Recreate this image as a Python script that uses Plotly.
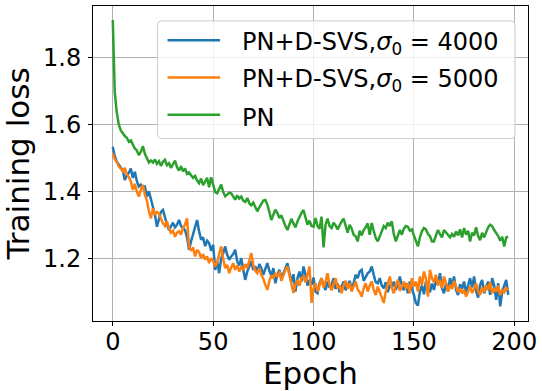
import plotly.graph_objects as go

epochs = list(range(198))

loss_pn = [
    1.912, 1.695, 1.635, 1.600, 1.582, 1.572, 1.565, 1.560, 1.548, 1.552,
    1.540, 1.528, 1.522, 1.508, 1.518, 1.535, 1.512, 1.498, 1.486, 1.492,
    1.486, 1.495, 1.482, 1.490, 1.476, 1.488, 1.494, 1.478, 1.484, 1.470,
    1.482, 1.492, 1.472, 1.462, 1.475, 1.460, 1.468, 1.452, 1.456, 1.448,
    1.440, 1.446, 1.432, 1.424, 1.438, 1.418, 1.430, 1.440, 1.412, 1.442,
    1.420, 1.398, 1.394, 1.405, 1.420, 1.398, 1.385, 1.390, 1.396, 1.394,
    1.382, 1.375, 1.388, 1.378, 1.384, 1.372, 1.368, 1.380, 1.364, 1.358,
    1.366, 1.350, 1.340, 1.352, 1.362, 1.372, 1.374, 1.360, 1.338, 1.314,
    1.330, 1.345, 1.335, 1.320, 1.328, 1.310, 1.296, 1.284, 1.300, 1.318,
    1.304, 1.292, 1.310, 1.325, 1.335, 1.344, 1.320, 1.300, 1.312, 1.296,
    1.294, 1.320, 1.296, 1.288, 1.324, 1.232, 1.300, 1.318, 1.296, 1.290,
    1.306, 1.298, 1.286, 1.300, 1.310, 1.318, 1.296, 1.276, 1.300, 1.288,
    1.270, 1.265, 1.250, 1.282, 1.268, 1.284, 1.292, 1.304, 1.270, 1.305,
    1.282, 1.260, 1.250, 1.268, 1.280, 1.296, 1.290, 1.306, 1.296, 1.310,
    1.272, 1.250, 1.266, 1.284, 1.270, 1.288, 1.296, 1.294, 1.282, 1.286,
    1.268, 1.250, 1.235, 1.262, 1.280, 1.290, 1.286, 1.272, 1.266, 1.250,
    1.250, 1.268, 1.284, 1.272, 1.262, 1.284, 1.276, 1.270, 1.262, 1.272,
    1.264, 1.280, 1.268, 1.286, 1.262, 1.290, 1.270, 1.282, 1.250, 1.276,
    1.268, 1.292, 1.266, 1.254, 1.276, 1.262, 1.280, 1.292, 1.300, 1.296,
    1.284, 1.276, 1.266, 1.252, 1.264, 1.235, 1.262, 1.264,
]

loss_4000 = [
    1.533, 1.505, 1.488, 1.480, 1.470, 1.462, 1.434, 1.448, 1.455, 1.468,
    1.440, 1.458, 1.430, 1.414, 1.420, 1.412, 1.414, 1.384, 1.400, 1.376,
    1.354, 1.330, 1.294, 1.320, 1.338, 1.344, 1.318, 1.300, 1.284, 1.296,
    1.306, 1.292, 1.300, 1.314, 1.296, 1.290, 1.284, 1.262, 1.225, 1.250,
    1.270, 1.290, 1.314, 1.280, 1.255, 1.262, 1.236, 1.252, 1.245, 1.222,
    1.240, 1.165, 1.190, 1.155, 1.200, 1.214, 1.235, 1.210, 1.195, 1.205,
    1.212, 1.225, 1.190, 1.178, 1.200, 1.165, 1.135, 1.160, 1.178, 1.190,
    1.165, 1.175, 1.158, 1.182, 1.170, 1.150, 1.168, 1.185, 1.162, 1.148,
    1.170, 1.125, 1.150, 1.165, 1.140, 1.158, 1.170, 1.185, 1.150, 1.128,
    1.152, 1.100, 1.140, 1.160, 1.130, 1.175, 1.150, 1.118, 1.135, 1.120,
    1.142, 1.100, 1.095, 1.125, 1.140, 1.118, 1.105, 1.130, 1.112, 1.120,
    1.140, 1.108, 1.124, 1.098, 1.115, 1.130, 1.104, 1.118, 1.132, 1.110,
    1.126, 1.150, 1.140, 1.160, 1.165, 1.132, 1.145, 1.155, 1.160, 1.175,
    1.150, 1.128, 1.125, 1.140, 1.118, 1.110, 1.128, 1.098, 1.120, 1.112,
    1.130, 1.105, 1.122, 1.145, 1.118, 1.104, 1.125, 1.095, 1.130, 1.112,
    1.090, 1.066, 1.058, 1.100, 1.118, 1.092, 1.130, 1.110, 1.098, 1.124,
    1.105, 1.135, 1.120, 1.155, 1.110, 1.095, 1.125, 1.100, 1.140, 1.118,
    1.145, 1.105, 1.090, 1.122, 1.108, 1.130, 1.098, 1.118, 1.140, 1.112,
    1.145, 1.102, 1.082, 1.120, 1.135, 1.095, 1.110, 1.130, 1.090, 1.140,
    1.118, 1.075, 1.125, 1.056, 1.100, 1.120, 1.135, 1.090,
]

loss_5000 = [
    1.513, 1.496, 1.488, 1.474, 1.468, 1.459, 1.470, 1.450, 1.442, 1.430,
    1.404, 1.422, 1.398, 1.384, 1.405, 1.419, 1.390, 1.372, 1.340, 1.319,
    1.349, 1.330, 1.338, 1.334, 1.318, 1.304, 1.296, 1.310, 1.289, 1.276,
    1.282, 1.264, 1.276, 1.280, 1.270, 1.290, 1.300, 1.319, 1.235, 1.222,
    1.232, 1.205, 1.225, 1.218, 1.200, 1.212, 1.196, 1.205, 1.185, 1.200,
    1.192, 1.175, 1.188, 1.210, 1.235, 1.198, 1.170, 1.180, 1.155, 1.172,
    1.185, 1.165, 1.178, 1.160, 1.175, 1.165, 1.182, 1.170, 1.192, 1.215,
    1.180, 1.162, 1.155, 1.170, 1.150, 1.138, 1.120, 1.105, 1.132, 1.148,
    1.140, 1.155, 1.145, 1.160, 1.132, 1.150, 1.165, 1.175, 1.150, 1.130,
    1.096, 1.120, 1.135, 1.118, 1.140, 1.145, 1.128, 1.150, 1.175, 1.066,
    1.110, 1.125, 1.100, 1.118, 1.140, 1.112, 1.130, 1.155, 1.120, 1.104,
    1.125, 1.140, 1.110, 1.118, 1.095, 1.120, 1.132, 1.108, 1.125, 1.100,
    1.115, 1.130, 1.106, 1.098, 1.085, 1.110, 1.125, 1.100, 1.118, 1.130,
    1.105, 1.090, 1.115, 1.100, 1.080, 1.066, 1.100, 1.125, 1.145, 1.110,
    1.095, 1.120, 1.135, 1.102, 1.118, 1.130, 1.108, 1.125, 1.095, 1.140,
    1.115, 1.130, 1.100, 1.145, 1.120, 1.160, 1.140, 1.085, 1.165, 1.140,
    1.128, 1.150, 1.118, 1.135, 1.110, 1.145, 1.125, 1.100, 1.120, 1.108,
    1.132, 1.115, 1.098, 1.110, 1.095, 1.105, 1.085, 1.100, 1.115, 1.096,
    1.108, 1.125, 1.100, 1.090, 1.112, 1.098, 1.120, 1.105, 1.128, 1.095,
    1.110, 1.100, 1.118, 1.090, 1.105, 1.098, 1.110, 1.105,
]

series_names = [
    "PN+D-SVS,<i>σ</i><sub>0</sub> = 4000",
    "PN+D-SVS,<i>σ</i><sub>0</sub> = 5000",
    "PN",
]
series_colors = ["#1f77b4", "#ff7f0e", "#2ca02c"]
series_values = [loss_4000, loss_5000, loss_pn]

x_ticks = [0, 50, 100, 150, 200]
y_ticks = [1.2, 1.4, 1.6, 1.8]

W, H = 542, 391
ML, MR, MT, MB = 93, 11, 5, 70
PW, PH = W - ML - MR, H - MT - MB


def px_x(p):
    return (p - ML) / PW


def px_y(p):
    return (H - MB - p) / PH


fig = go.Figure()
for name, color, vals in zip(series_names, series_colors, series_values):
    fig.add_trace(go.Scatter(x=epochs, y=vals, mode="lines", name=name,
                             line=dict(color=color, width=2.5),
                             showlegend=False))

font_family = "DejaVu Sans"
axis_common = dict(
    showline=True, linecolor="black", linewidth=1, mirror=True,
    ticks="outside", ticklen=4, tickcolor="black", tickwidth=1,
    showgrid=True, gridcolor="#b0b0b0", gridwidth=1, zeroline=False,
    tickfont=dict(family=font_family, size=24, color="black"),
)

# legend drawn as a matplotlib-style box
bx0, bx1, by0, by1 = px_x(158), px_x(518), px_y(138), px_y(20)
rx, ry = 4 / PW, 4 / PH
box_path = (
    f"M{bx0 + rx},{by1} L{bx1 - rx},{by1} Q{bx1},{by1} {bx1},{by1 - ry} "
    f"L{bx1},{by0 + ry} Q{bx1},{by0} {bx1 - rx},{by0} "
    f"L{bx0 + rx},{by0} Q{bx0},{by0} {bx0},{by0 + ry} "
    f"L{bx0},{by1 - ry} Q{bx0},{by1} {bx0 + rx},{by1} Z"
)
shapes = [dict(type="path", path=box_path, xref="paper", yref="paper",
               fillcolor="rgba(255,255,255,0.8)",
               line=dict(color="#cccccc", width=1), layer="above")]
annotations = []
row_px = [39.3, 76.7, 114.0]
for name, color, ry_px in zip(series_names, series_colors, row_px):
    yy = px_y(ry_px)
    shapes.append(dict(type="line", xref="paper", yref="paper",
                       x0=px_x(168), x1=px_x(221), y0=yy, y1=yy,
                       line=dict(color=color, width=2.5), layer="above"))
    annotations.append(dict(text=name, xref="paper", yref="paper",
                            x=px_x(241), y=px_y(ry_px + 3), xanchor="left",
                            yanchor="middle", showarrow=False,
                            font=dict(family=font_family, size=24,
                                      color="black")))

fig.update_layout(
    width=W, height=H,
    margin=dict(l=ML, r=MR, t=MT, b=MB),
    paper_bgcolor="white", plot_bgcolor="white",
    font=dict(family=font_family, color="black"),
    xaxis=dict(range=[-9.85, 206.85], tickvals=x_ticks,
               ticklabelstandoff=-5,
               title=dict(text="Epoch", font=dict(size=31), standoff=2),
               **axis_common),
    yaxis=dict(range=[1.012, 1.954], tickvals=y_ticks, tickformat=".1f",
               ticklabelstandoff=2,
               title=dict(text="Training loss", font=dict(size=31), standoff=6),
               **axis_common),
    shapes=shapes,
    annotations=annotations,
    showlegend=False,
)

fig.write_html("out.html")
